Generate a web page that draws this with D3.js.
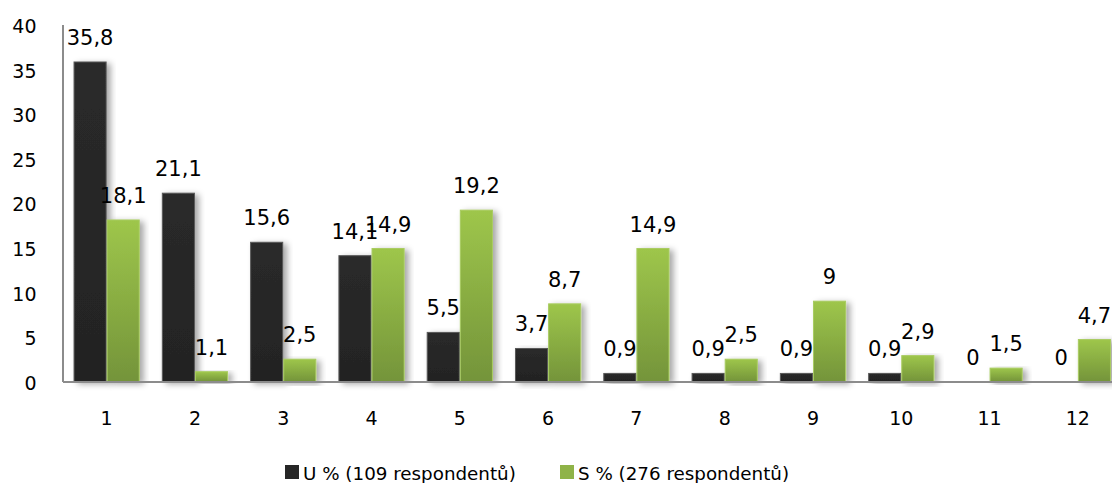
<!DOCTYPE html>
<html>
<head>
<meta charset="utf-8">
<script src="https://cdn.jsdelivr.net/npm/d3@7"></script>
<style>
  html, body { margin: 0; padding: 0; background: #fff; }
  svg { display: block; font-family: "DejaVu Sans", "Open Sans", sans-serif; }
</style>
</head>
<body>
<svg id="chart" width="1112" height="483"></svg>
<script>
// Categories on the horizontal axis
const categories = ["1", "2", "3", "4", "5", "6", "7", "8", "9", "10", "11", "12"];
// Series values (percent)
const seriesNames = ["U % (109 respondentů)", "S % (276 respondentů)"];
const valuesU = [35.8, 21.1, 15.6, 14.1, 5.5, 3.7, 0.9, 0.9, 0.9, 0.9, 0, 0];
const valuesS = [18.1, 1.1, 2.5, 14.9, 19.2, 8.7, 14.9, 2.5, 9, 2.9, 1.5, 4.7];
// Value-axis ticks
const yTicks = [0, 5, 10, 15, 20, 25, 30, 35, 40];

const FONT = "DejaVu Sans";
const svg = d3.select("#chart");
const plotLeft = 62.5, plotRight = 1122, plotTop = 24.5, plotBottom = 381.5;

const x = d3.scaleBand().domain(categories).range([plotLeft, plotRight])
  .paddingInner(0.25).paddingOuter(0.125);
const x1 = d3.scaleBand().domain([0, 1]).range([0, x.bandwidth()]);
const y = d3.scaleLinear().domain([0, 40]).range([plotBottom, plotTop]);

const defs = svg.append("defs");
const gGreen = defs.append("linearGradient").attr("id", "gGreen")
  .attr("x1", 0).attr("y1", 0).attr("x2", 0).attr("y2", 1);
gGreen.append("stop").attr("offset", "0%").attr("stop-color", "#9ec64b");
gGreen.append("stop").attr("offset", "100%").attr("stop-color", "#74943a");
const gDark = defs.append("linearGradient").attr("id", "gDark")
  .attr("x1", 0).attr("y1", 0).attr("x2", 0).attr("y2", 1);
gDark.append("stop").attr("offset", "0%").attr("stop-color", "#2a2a2a");
gDark.append("stop").attr("offset", "100%").attr("stop-color", "#232323");
const sh = defs.append("filter").attr("id", "shadow")
  .attr("x", "-30%").attr("y", "-10%").attr("width", "160%").attr("height", "130%");
sh.append("feDropShadow").attr("dx", 4).attr("dy", 2).attr("stdDeviation", 3)
  .attr("flood-color", "#000").attr("flood-opacity", 0.35);

const series = [
  { name: seriesNames[0], values: valuesU, fill: "url(#gDark)", stroke: "#5a5a5a", swatch: "#262626" },
  { name: seriesNames[1], values: valuesS, fill: "url(#gGreen)", stroke: "#a9cc62", swatch: "#8fb348" }
];

// Bars
series.forEach((s, si) => {
  svg.append("g").selectAll("rect")
    .data(s.values.map((v, i) => ({ c: categories[i], v })).filter(d => d.v > 0))
    .join("rect")
    .attr("x", d => x(d.c) + x1(si) + 0.5)
    .attr("y", d => y(d.v))
    .attr("width", x1.bandwidth() - 1)
    .attr("height", d => y(0) - y(d.v))
    .attr("fill", s.fill)
    .attr("stroke", s.stroke)
    .attr("stroke-width", 1)
    .attr("filter", "url(#shadow)");
});

// Axes
const yAxis = svg.append("g").attr("transform", `translate(${plotLeft},0)`)
  .call(d3.axisLeft(y).tickValues(yTicks).tickSize(0).tickPadding(26));
yAxis.select(".domain").attr("stroke", "#8c8c8c").attr("stroke-width", 2);
yAxis.selectAll("text").attr("font-size", 19).attr("fill", "#000")
  .attr("font-family", FONT).attr("dy", "0.42em");

const xAxis = svg.append("g").attr("transform", `translate(0,${plotBottom})`)
  .call(d3.axisBottom(x).tickSize(0).tickPadding(30));
xAxis.select(".domain").attr("stroke", "#8c8c8c").attr("stroke-width", 2);
xAxis.selectAll("text").attr("font-size", 19).attr("fill", "#000")
  .attr("font-family", FONT);

// Value labels
series.forEach((s, si) => {
  svg.append("g").selectAll("text")
    .data(s.values.map((v, i) => ({ c: categories[i], v })))
    .join("text")
    .attr("x", d => x(d.c) + x1(si) + x1.bandwidth() / 2)
    .attr("y", d => y(d.v) - 17)
    .attr("text-anchor", "middle")
    .attr("font-size", 21)
    .attr("font-family", FONT)
    .attr("fill", "#000")
    .text(d => String(d.v).replace(".", ","));
});

// Legend
const legend = svg.append("g");
const legendX = [285, 560];
series.forEach((s, si) => {
  legend.append("rect").attr("x", legendX[si]).attr("y", 465)
    .attr("width", 14).attr("height", 14).attr("fill", s.swatch);
  legend.append("text").attr("x", legendX[si] + 18).attr("y", 480)
    .attr("font-size", 18.3).attr("font-family", FONT).attr("fill", "#000").text(s.name);
});
</script>
</body>
</html>
